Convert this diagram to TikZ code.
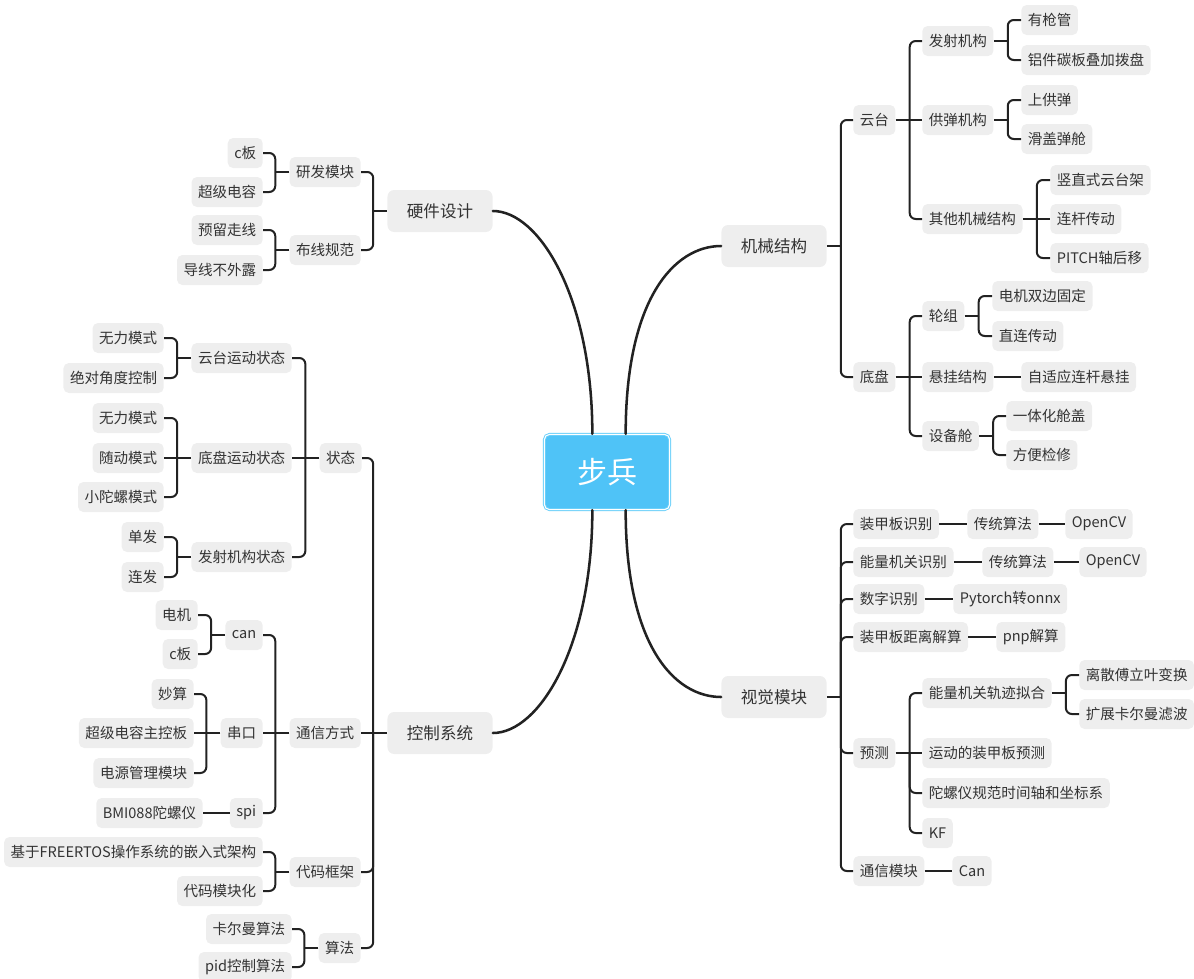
\documentclass[tikz,border=0pt]{standalone}
\usepackage{fontspec}
\setmainfont{Noto Sans CJK SC}

\definecolor{rootblue}{HTML}{4FC3F7}
\definecolor{rootedge}{HTML}{6ACFFA}
\definecolor{nodegray}{HTML}{EEEEEE}
\definecolor{inkgray}{HTML}{333333}
\definecolor{linegray}{HTML}{222222}

\begin{document}
\begin{tikzpicture}[x=0.75pt,y=-0.75pt,
    root/.style={fill=rootblue,draw=rootedge,double=white,double distance=0.8pt,line width=0.7pt,
      rounded corners=4pt,minimum width=94pt,minimum height=56.5pt,text=white,
      font=\fontsize{22.5}{26}\selectfont},
    main/.style={fill=nodegray,text=inkgray,rounded corners=5pt,minimum height=31.5pt,
      inner xsep=14.6pt,inner ysep=2pt,font=\fontsize{12.4}{15}\selectfont},
    topic/.style={fill=nodegray,text=inkgray,rounded corners=4pt,minimum height=22.5pt,
      inner xsep=4.9pt,inner ysep=2pt,font=\fontsize{10.9}{13}\selectfont},
    leafr/.style={topic,anchor=west},
    leafl/.style={topic,anchor=east},
    link/.style={draw=linegray,line width=1.5pt,rounded corners=4.5pt},
    trunk/.style={draw=linegray,line width=1.9pt,line cap=round}]
        \useasboundingbox (0,0) rectangle (1194,978);

        % centre and main topics
        \node[root] (root) at (607,472) {步兵};
        \node[main] (yj) at (440,211) {硬件设计};
        \node[main] (kz) at (440,733) {控制系统};
        \node[main] (jx) at (774,246) {机械结构};
        \node[main] (sj) at (774,697) {视觉模块};

        \draw[trunk] (yj.east) .. controls +(47,0) and +(0,-135) .. ([xshift=-11pt]root.north);
        \draw[trunk] (jx.west) .. controls +(-47,0) and +(0,-135) .. ([xshift=14pt]root.north);
        \draw[trunk] (kz.east) .. controls +(47,0) and +(0,135) .. ([xshift=-11pt]root.south);
        \draw[trunk] (sj.west) .. controls +(-47,0) and +(0,135) .. ([xshift=14pt]root.south);

        % 机械结构
        \node[leafr] (yt) at (853,120) {云台};
        \node[leafr] (dp) at (853,377) {底盘};
        \node[leafr] (fs) at (922,41) {发射机构};
        \node[leafr] (gd) at (922,120) {供弹机构};
        \node[leafr] (qt) at (922,219) {其他机械结构};
        \node[leafr] (ygq) at (1021,20) {有枪管};
        \node[leafr] (lj) at (1021,60) {铝件碳板叠加拨盘};
        \node[leafr] (sgd) at (1021,100) {上供弹};
        \node[leafr] (hg) at (1021,139) {滑盖弹舱};
        \node[leafr] (sz) at (1050,180) {竖直式云台架};
        \node[leafr] (lg) at (1050,219) {连杆传动};
        \node[leafr] (pitch) at (1050,258) {PITCH轴后移};
        \node[leafr] (lz) at (922,316) {轮组};
        \node[leafr] (xg) at (922,377) {悬挂结构};
        \node[leafr] (sbc) at (922,436) {设备舱};
        \node[leafr] (djsb) at (992,296) {电机双边固定};
        \node[leafr] (zlcd) at (992,336) {直连传动};
        \node[leafr] (zsy) at (1021,377) {自适应连杆悬挂};
        \node[leafr] (yth) at (1006,416) {一体化舱盖};
        \node[leafr] (fbjx) at (1006,455) {方便检修};

        \draw[link] (jx.east) -- ++(14,0);
        \foreach \c in {yt,dp} \draw[link] (jx.east) ++(14,0) |- (\c.west);
        \draw[link] (yt.east) -- (gd.west);
        \foreach \c in {fs,qt} \draw[link] (yt.east) ++(14,0) |- (\c.west);
        \draw[link] (fs.east) -- ++(14,0);
        \foreach \c in {ygq,lj} \draw[link] (fs.east) ++(14,0) |- (\c.west);
        \draw[link] (gd.east) -- ++(14,0);
        \foreach \c in {sgd,hg} \draw[link] (gd.east) ++(14,0) |- (\c.west);
        \draw[link] (qt.east) -- (lg.west);
        \foreach \c in {sz,pitch} \draw[link] (qt.east) ++(14,0) |- (\c.west);
        \draw[link] (dp.east) -- (xg.west);
        \foreach \c in {lz,sbc} \draw[link] (dp.east) ++(14,0) |- (\c.west);
        \draw[link] (lz.east) -- ++(14,0);
        \foreach \c in {djsb,zlcd} \draw[link] (lz.east) ++(14,0) |- (\c.west);
        \draw[link] (xg.east) -- (zsy.west);
        \draw[link] (sbc.east) -- ++(14,0);
        \foreach \c in {yth,fbjx} \draw[link] (sbc.east) ++(14,0) |- (\c.west);

        % 视觉模块
        \node[leafr] (zjb) at (853,524) {装甲板识别};
        \node[leafr] (ctsfa) at (967,524) {传统算法};
        \node[leafr] (ocva) at (1065,524) {OpenCV};
        \node[leafr] (nljg) at (853,562) {能量机关识别};
        \node[leafr] (ctsfb) at (982,562) {传统算法};
        \node[leafr] (ocvb) at (1079,562) {OpenCV};
        \node[leafr] (szsb) at (853,599) {数字识别};
        \node[leafr] (pyt) at (953,599) {Pytorch转onnx};
        \node[leafr] (jl) at (853,637) {装甲板距离解算};
        \node[leafr] (pnp) at (996,637) {pnp解算};
        \node[leafr] (yc) at (853,753) {预测};
        \node[leafr] (gjnh) at (922,693) {能量机关轨迹拟合};
        \node[leafr] (lsfly) at (1079,675) {离散傅立叶变换};
        \node[leafr] (kzkem) at (1079,714) {扩展卡尔曼滤波};
        \node[leafr] (ydzjb) at (922,753) {运动的装甲板预测};
        \node[leafr] (tly) at (922,793) {陀螺仪规范时间轴和坐标系};
        \node[leafr] (kf) at (922,833) {KF};
        \node[leafr] (txmk) at (853,871) {通信模块};
        \node[leafr] (cana) at (952,871) {Can};

        \draw[link] (sj.east) -- ++(14,0);
        \foreach \c in {zjb,nljg,szsb,jl,yc,txmk} \draw[link] (sj.east) ++(14,0) |- (\c.west);
        \draw[link] (zjb.east) -- (ctsfa.west);
        \draw[link] (ctsfa.east) -- (ocva.west);
        \draw[link] (nljg.east) -- (ctsfb.west);
        \draw[link] (ctsfb.east) -- (ocvb.west);
        \draw[link] (szsb.east) -- (pyt.west);
        \draw[link] (jl.east) -- (pnp.west);
        \draw[link] (yc.east) -- (ydzjb.west);
        \foreach \c in {gjnh,tly,kf} \draw[link] (yc.east) ++(14,0) |- (\c.west);
        \draw[link] (gjnh.east) -- ++(14,0);
        \foreach \c in {lsfly,kzkem} \draw[link] (gjnh.east) ++(14,0) |- (\c.west);
        \draw[link] (txmk.east) -- (cana.west);

        % 硬件设计
        \node[leafl] (yfmk) at (361,172) {研发模块};
        \node[leafl] (bxgf) at (361,250) {布线规范};
        \node[leafl] (cba) at (263,153) {c板};
        \node[leafl] (cjdr) at (263,192) {超级电容};
        \node[leafl] (ylzx) at (263,230) {预留走线};
        \node[leafl] (dxbwl) at (263,270) {导线不外露};

        \draw[link] (yj.west) -- ++(-14,0);
        \foreach \c in {yfmk,bxgf} \draw[link] (yj.west) ++(-14,0) |- (\c.east);
        \draw[link] (yfmk.west) -- ++(-14,0);
        \foreach \c in {cba,cjdr} \draw[link] (yfmk.west) ++(-14,0) |- (\c.east);
        \draw[link] (bxgf.west) -- ++(-14,0);
        \foreach \c in {ylzx,dxbwl} \draw[link] (bxgf.west) ++(-14,0) |- (\c.east);

        % 控制系统
        \node[leafl] (zt) at (362,458) {状态};
        \node[leafl] (ytyd) at (292,358) {云台运动状态};
        \node[leafl] (dpyd) at (292,458) {底盘运动状态};
        \node[leafl] (fsjg) at (292,557) {发射机构状态};
        \node[leafl] (wla) at (164,338) {无力模式};
        \node[leafl] (jdjd) at (164,378) {绝对角度控制};
        \node[leafl] (wlb) at (164,418) {无力模式};
        \node[leafl] (sd) at (164,458) {随动模式};
        \node[leafl] (xtl) at (164,497) {小陀螺模式};
        \node[leafl] (df) at (164,537) {单发};
        \node[leafl] (lfa) at (164,577) {连发};
        \node[leafl] (txfs) at (361,733) {通信方式};
        \node[leafl] (canb) at (263,635) {can};
        \node[leafl] (ck) at (263,733) {串口};
        \node[leafl] (spi) at (263,813) {spi};
        \node[leafl] (dj) at (198,615) {电机};
        \node[leafl] (cbb) at (198,654) {c板};
        \node[leafl] (ms) at (194,694) {妙算};
        \node[leafl] (cjzk) at (194,733) {超级电容主控板};
        \node[leafl] (dygl) at (194,773) {电源管理模块};
        \node[leafl] (bmi) at (203,813) {BMI088陀螺仪};
        \node[leafl] (dmkj) at (361,872) {代码框架};
        \node[leafl] (rtos) at (263,852) {基于FREERTOS操作系统的嵌入式架构};
        \node[leafl] (dmmk) at (263,891) {代码模块化};
        \node[leafl] (sf) at (361,948) {算法};
        \node[leafl] (kem) at (292,929) {卡尔曼算法};
        \node[leafl] (pid) at (292,967) {pid控制算法};

        \draw[link] (kz.west) -- (txfs.east);
        \foreach \c in {zt,dmkj,sf} \draw[link] (kz.west) ++(-14,0) |- (\c.east);
        \draw[link] (zt.west) -- (dpyd.east);
        \foreach \c in {ytyd,fsjg} \draw[link] (zt.west) ++(-14,0) |- (\c.east);
        \draw[link] (ytyd.west) -- ++(-14,0);
        \foreach \c in {wla,jdjd} \draw[link] (ytyd.west) ++(-14,0) |- (\c.east);
        \draw[link] (dpyd.west) -- (sd.east);
        \foreach \c in {wlb,xtl} \draw[link] (dpyd.west) ++(-14,0) |- (\c.east);
        \draw[link] (fsjg.west) -- ++(-14,0);
        \foreach \c in {df,lfa} \draw[link] (fsjg.west) ++(-14,0) |- (\c.east);
        \draw[link] (txfs.west) -- (ck.east);
        \foreach \c in {canb,spi} \draw[link] (txfs.west) ++(-14,0) |- (\c.east);
        \draw[link] (canb.west) -- ++(-14,0);
        \foreach \c in {dj,cbb} \draw[link] (canb.west) ++(-14,0) |- (\c.east);
        \draw[link] (ck.west) -- (cjzk.east);
        \foreach \c in {ms,dygl} \draw[link] (ck.west) ++(-14,0) |- (\c.east);
        \draw[link] (spi.west) -- (bmi.east);
        \draw[link] (dmkj.west) -- ++(-14,0);
        \foreach \c in {rtos,dmmk} \draw[link] (dmkj.west) ++(-14,0) |- (\c.east);
        \draw[link] (sf.west) -- ++(-14,0);
        \foreach \c in {kem,pid} \draw[link] (sf.west) ++(-14,0) |- (\c.east);
\end{tikzpicture}
\end{document}
